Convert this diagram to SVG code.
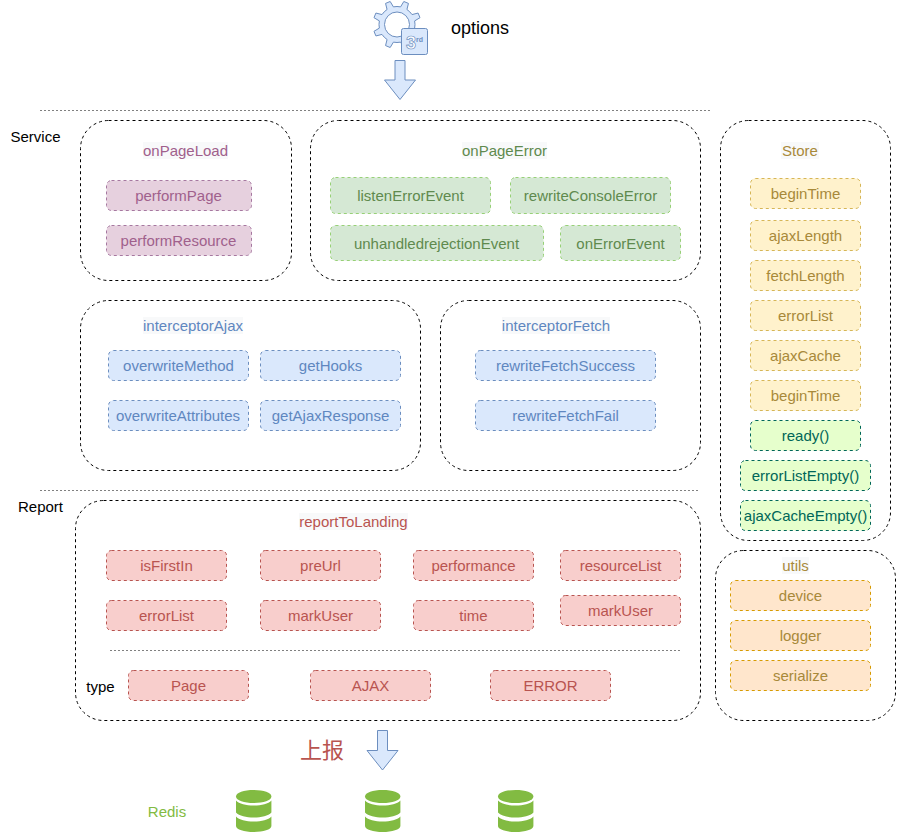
<svg xmlns="http://www.w3.org/2000/svg" width="911" height="833" viewBox="0 0 911 833">
<style>
text{font-family:"Liberation Sans","Noto Sans CJK SC",sans-serif;font-size:15px;text-anchor:middle;dominant-baseline:central}
.c{fill:#fff;stroke:#000;stroke-dasharray:3 3}
.b{stroke-dasharray:3 3}
.div{fill:none;stroke:#808080;stroke-dasharray:2 2}
.bg{fill:#f8f9fa}
.arrow{fill:#dae8fc;stroke:#6c8ebf}
.purple rect.b{fill:#e6d0de;stroke:#a678a0}.purple text{fill:#a0608c}
.green rect.b{fill:#d5e8d4;stroke:#97d077}.green text{fill:#5f8a4e}
.blue rect.b{fill:#dae8fc;stroke:#6c8ebf}.blue text{fill:#5f87c0}
.yellow rect.b{fill:#fff2cc;stroke:#d6b656}.yellow text{fill:#a8893a}
.lime rect.b{fill:#e6ffcc;stroke:#006658}.lime text{fill:#006658}
.orange rect.b{fill:#ffe6cc;stroke:#d79b00}.orange text{fill:#a8893a}
.red rect.b{fill:#f8cecc;stroke:#b85450}.red text{fill:#b85450}
.k text{fill:#000}
.db{fill:#82bb42}
</style>
<defs>
<g id="cyl">
<path class="db" d="M0,6.500C0,2.500 8,0 17.700,0S35.400,2.500 35.400,6.500S27,13 17.700,13S0,10.500 0,6.500Z"/>
<path class="db" d="M0,10.500C3,14 10,15.500 17.700,15.500S32.400,14 35.400,10.500V22.500C32.400,26 25,27.500 17.700,27.500S3,26 0,22.500Z"/>
<path class="db" d="M0,26.500C3,30 10,31.500 17.700,31.500S32.400,30 35.400,26.500V36C35.400,39.500 27,42 17.700,42S0,39.500 0,36Z"/>
</g>
</defs>

<g id="connectors">
<path class="arrow" d="M395,60.500H405V80H415.500L400,99.500L384.500,80H395Z"/>
<path class="arrow" d="M377.500,730.500H387.500V750.500H398L382.500,770L367,750.500H377.500Z"/>
<path class="div" d="M40,110.500H710"/>
<path class="div" d="M40,490.500H700"/>
</g>

<g id="options-icon">
<path transform="translate(397,24.500)" fill="#dae8fc" stroke="#6c8ebf" fill-rule="evenodd" d="M3.590,-17.640L6.820,-23.010L11.450,-21.090L9.930,-15.010A18,18 0 0 1 15.010,-9.930L21.090,-11.450L23.010,-6.820L17.640,-3.590A18,18 0 0 1 17.640,3.590L23.010,6.820L21.090,11.450L15.010,9.930A18,18 0 0 1 9.930,15.010L11.450,21.090L6.820,23.010L3.590,17.640A18,18 0 0 1 -3.590,17.640L-6.820,23.010L-11.450,21.090L-9.930,15.010A18,18 0 0 1 -15.010,9.930L-21.090,11.450L-23.010,6.820L-17.640,3.590A18,18 0 0 1 -17.640,-3.590L-23.010,-6.820L-21.090,-11.450L-15.010,-9.930A18,18 0 0 1 -9.930,-15.010L-11.450,-21.090L-6.820,-23.010L-3.590,-17.640A18,18 0 0 1 3.590,-17.640ZM12.500,0A12.500,12.500 0 1 0 -12.500,0A12.500,12.500 0 1 0 12.500,0Z"/>
<rect x="401.500" y="28.500" width="26" height="26" rx="2" fill="#dae8fc" stroke="#6c8ebf"/>
<text x="411" y="42.500" style="font-size:18px;font-weight:bold" fill="#fff" stroke="#6c8ebf" stroke-width=".7">3</text>
<text x="419.500" y="39" style="font-size:7px;font-weight:bold" fill="#6c8ebf">rd</text>
</g>
<g id="options" class="k"><text x="480" y="28" style="font-size:18px">options</text></g>
<g id="service-label" class="k"><text x="35.500" y="136">Service</text></g>
<g id="report-label" class="k"><text x="40.500" y="506">Report</text></g>

<g id="onPageLoad" class="purple">
<rect class="c" x="80.500" y="120.500" width="211" height="160" rx="28"/>
<rect class="bg" x="143" y="142" width="85" height="17"/>
<text x="185.500" y="150">onPageLoad</text>
<rect class="b" x="106.500" y="180.500" width="145" height="30" rx="5"/><text x="178.500" y="195">performPage</text>
<rect class="b" x="106.500" y="225.500" width="145" height="30" rx="5"/><text x="178.500" y="240">performResource</text>
</g>

<g id="onPageError" class="green">
<rect class="c" x="310.500" y="120.500" width="390" height="160" rx="28"/>
<rect class="bg" x="462" y="142" width="85" height="17"/>
<text x="504.500" y="150">onPageError</text>
<rect class="b" x="330.500" y="177.500" width="160" height="36" rx="5"/><text x="410.500" y="195">listenErrorEvent</text>
<rect class="b" x="510.500" y="177.500" width="160" height="36" rx="5"/><text x="590.500" y="195">rewriteConsoleError</text>
<rect class="b" x="330.500" y="225.500" width="213" height="35" rx="5"/><text x="436.500" y="243">unhandledrejectionEvent</text>
<rect class="b" x="560.500" y="225.500" width="120" height="35" rx="5"/><text x="620.500" y="243">onErrorEvent</text>
</g>

<g id="interceptorAjax" class="blue">
<rect class="c" x="80.500" y="300.500" width="340" height="170" rx="28"/>
<rect class="bg" x="143" y="317" width="100" height="17"/>
<text x="193" y="325">interceptorAjax</text>
<rect class="b" x="108.500" y="350.500" width="140" height="30" rx="5"/><text x="178.500" y="365">overwriteMethod</text>
<rect class="b" x="260.500" y="350.500" width="140" height="30" rx="5"/><text x="330.500" y="365">getHooks</text>
<rect class="b" x="108.500" y="400.500" width="140" height="30" rx="5"/><text x="178" y="415">overwriteAttributes</text>
<rect class="b" x="260.500" y="400.500" width="140" height="30" rx="5"/><text x="330.500" y="415">getAjaxResponse</text>
</g>

<g id="interceptorFetch" class="blue">
<rect class="c" x="440.500" y="300.500" width="260" height="170" rx="28"/>
<rect class="bg" x="502" y="317" width="108" height="17"/>
<text x="556" y="325">interceptorFetch</text>
<rect class="b" x="475.500" y="350.500" width="180" height="30" rx="5"/><text x="565.500" y="365">rewriteFetchSuccess</text>
<rect class="b" x="475.500" y="400.500" width="180" height="30" rx="5"/><text x="565.500" y="415">rewriteFetchFail</text>
</g>

<g id="store" class="yellow">
<rect class="c" x="720.500" y="120.500" width="170" height="420" rx="28"/>
<rect class="bg" x="781" y="142" width="38" height="17"/>
<text x="800" y="150">Store</text>
<rect class="b" x="750.500" y="178.500" width="110" height="30" rx="5"/><text x="805.500" y="193">beginTime</text>
<rect class="b" x="750.500" y="220.500" width="110" height="30" rx="5"/><text x="805.500" y="235">ajaxLength</text>
<rect class="b" x="750.500" y="260.500" width="110" height="30" rx="5"/><text x="805.500" y="275">fetchLength</text>
<rect class="b" x="750.500" y="300.500" width="110" height="30" rx="5"/><text x="805.500" y="315">errorList</text>
<rect class="b" x="750.500" y="340.500" width="110" height="30" rx="5"/><text x="805.500" y="355">ajaxCache</text>
<rect class="b" x="750.500" y="380.500" width="110" height="30" rx="5"/><text x="805.500" y="395">beginTime</text>
</g>
<g id="store-methods" class="lime">
<rect class="b" x="750.500" y="420.500" width="110" height="30" rx="5"/><text x="805.500" y="435">ready()</text>
<rect class="b" x="740.500" y="460.500" width="130" height="30" rx="5"/><text x="805.500" y="475">errorListEmpty()</text>
<rect class="b" x="740.500" y="500.500" width="130" height="30" rx="5"/><text x="805.500" y="515">ajaxCacheEmpty()</text>
</g>

<g id="utils" class="orange">
<rect class="c" x="715.500" y="550.500" width="180" height="170" rx="28"/>
<rect class="bg" x="782" y="557" width="27" height="17"/>
<text x="795.500" y="565">utils</text>
<rect class="b" x="730.500" y="580.500" width="140" height="30" rx="5"/><text x="800.500" y="595">device</text>
<rect class="b" x="730.500" y="620.500" width="140" height="30" rx="5"/><text x="800.500" y="635">logger</text>
<rect class="b" x="730.500" y="660.500" width="140" height="30" rx="5"/><text x="800.500" y="675">serialize</text>
</g>

<g id="reportToLanding" class="red">
<rect class="c" x="75.500" y="500.500" width="625" height="220" rx="28"/>
<path class="div" d="M110,650.500H680"/>
<rect class="bg" x="299" y="513" width="109" height="17"/>
<text x="353.500" y="521">reportToLanding</text>
<rect class="b" x="106.500" y="550.500" width="120" height="30" rx="5"/><text x="166.500" y="565">isFirstIn</text>
<rect class="b" x="260.500" y="550.500" width="120" height="30" rx="5"/><text x="320.500" y="565">preUrl</text>
<rect class="b" x="413.500" y="550.500" width="120" height="30" rx="5"/><text x="473.500" y="565">performance</text>
<rect class="b" x="560.500" y="550.500" width="120" height="30" rx="5"/><text x="620.500" y="565">resourceList</text>
<rect class="b" x="106.500" y="600.500" width="120" height="30" rx="5"/><text x="166.500" y="615">errorList</text>
<rect class="b" x="260.500" y="600.500" width="120" height="30" rx="5"/><text x="320.500" y="615">markUser</text>
<rect class="b" x="413.500" y="600.500" width="120" height="30" rx="5"/><text x="473.500" y="615">time</text>
<rect class="b" x="560.500" y="595.500" width="120" height="30" rx="5"/><text x="620.500" y="610">markUser</text>
<rect class="b" x="128.500" y="670.500" width="120" height="30" rx="5"/><text x="188.500" y="685">Page</text>
<rect class="b" x="310.500" y="670.500" width="120" height="30" rx="5"/><text x="370.500" y="685">AJAX</text>
<rect class="b" x="490.500" y="670.500" width="120" height="30" rx="5"/><text x="550.500" y="685">ERROR</text>
</g>
<g id="type-label" class="k"><text x="100.500" y="686">type</text></g>

<g id="report-upload"><text x="322" y="750" style="font-size:22px" fill="#b85450">上报</text></g>
<g id="redis-label"><text x="167" y="811" fill="#82bb42">Redis</text></g>
<g id="redis-1"><use href="#cyl" x="236" y="790"/></g>
<g id="redis-2"><use href="#cyl" x="365" y="790"/></g>
<g id="redis-3"><use href="#cyl" x="498" y="790"/></g>
</svg>
